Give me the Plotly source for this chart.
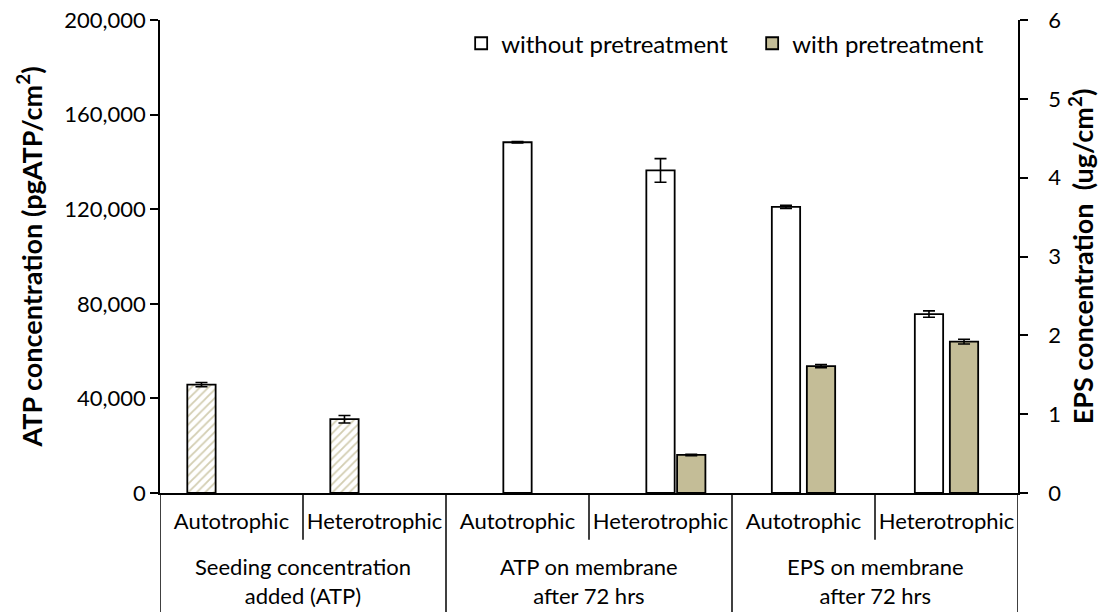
import plotly.graph_objects as go

# ---- data ----
groups = ["Seeding concentration<br>added (ATP)", "ATP on membrane<br>after 72 hrs", "EPS on membrane<br>after 72 hrs"]
subcats = ["Autotrophic", "Heterotrophic"]

seeding_atp = [45800, 31200, None, None, None, None]
seeding_err = [900, 1600, 0, 0, 0, 0]
atp_without = [None, None, 148300, 136400, None, None]
atp_without_err = [0, 0, 300, 5000, 0, 0]
atp_with = [None, None, None, 16100, None, None]
atp_with_err = [0, 0, 0, 300, 0, 0]
eps_without = [None, None, None, None, 3.63, 2.27]
eps_without_err = [0, 0, 0, 0, 0.02, 0.04]
eps_with = [None, None, None, None, 1.61, 1.92]
eps_with_err = [0, 0, 0, 0, 0.02, 0.03]

series_names = ["without pretreatment", "with pretreatment"]

inner_labels = [s for g in groups for s in subcats]
xpos = list(range(len(inner_labels)))

FONT = "Lato"
TAN = "#C4BD97"
LW = 1.8
BW = 0.198

def err(a):
    return dict(type="data", array=a, visible=True, color="black", thickness=1.6, width=6)

fig = go.Figure()
fig.add_trace(go.Bar(x=xpos, y=seeding_atp, width=BW, offset=-0.309,
                     marker=dict(color="white", line=dict(color="black", width=LW),
                                 pattern=dict(shape="/", fgcolor="#D3CEB2", bgcolor="white",
                                              size=6, solidity=0.3, fillmode="replace")),
                     error_y=err(seeding_err), showlegend=False, name="Seeding"))
fig.add_trace(go.Bar(x=xpos, y=atp_without, width=BW, offset=-0.099,
                     marker=dict(color="white", line=dict(color="black", width=LW)),
                     error_y=err(atp_without_err), name=series_names[0], legendgroup="a"))
fig.add_trace(go.Bar(x=xpos, y=atp_with, width=BW, offset=0.116,
                     marker=dict(color=TAN, line=dict(color="black", width=LW)),
                     error_y=err(atp_with_err), name=series_names[1], legendgroup="b"))
fig.add_trace(go.Bar(x=xpos, y=eps_without, width=BW, offset=-0.2215, yaxis="y2",
                     marker=dict(color="white", line=dict(color="black", width=LW)),
                     error_y=err(eps_without_err), name=series_names[0], legendgroup="a",
                     showlegend=False))
fig.add_trace(go.Bar(x=xpos, y=eps_with, width=BW, offset=0.0235, yaxis="y2",
                     marker=dict(color=TAN, line=dict(color="black", width=LW)),
                     error_y=err(eps_with_err), name=series_names[1], legendgroup="b",
                     showlegend=False))

# separators below the axis
shapes = []
for i in range(len(groups)):
    xm = i * len(subcats) + 0.5
    shapes.append(dict(type="line", xref="x", yref="paper", x0=xm, x1=xm, y0=0, y1=-0.099,
                       line=dict(color="black", width=1.5)))
for i in range(len(groups) + 1):
    xb = i * len(subcats) - 0.5
    shapes.append(dict(type="line", xref="x", yref="paper", x0=xb, x1=xb, y0=0, y1=-0.3,
                       line=dict(color="black", width=1.5)))

annotations = []
for i, g in enumerate(groups):
    annotations.append(dict(x=i * len(subcats) + 0.5, xref="x", y=-0.186, yref="paper",
                            text=g, showarrow=False, xanchor="center", yanchor="middle",
                            font=dict(family=FONT, size=22, color="black")))

fig.update_layout(
    width=1104, height=612,
    margin=dict(l=160, r=86, t=20, b=119, autoexpand=False),
    paper_bgcolor="white", plot_bgcolor="white",
    barmode="overlay",
    font=dict(family=FONT, size=22, color="black"),
    shapes=shapes, annotations=annotations,
    legend=dict(orientation="h", x=0.351, xanchor="left", y=0.95, yanchor="middle",
                font=dict(family=FONT, size=24, color="black"), bgcolor="rgba(0,0,0,0)",
                entrywidth=246, entrywidthmode="pixels", tracegroupgap=0),
    xaxis=dict(range=[-0.5, 5.5], tickvals=xpos, ticktext=inner_labels, ticks="",
               showline=True, linecolor="black", linewidth=1.5, showgrid=False, zeroline=False,
               tickfont=dict(family=FONT, size=22), ticklabelstandoff=8),
    yaxis=dict(range=[0, 200000], dtick=40000, tickformat=",", ticks="outside", ticklen=8,
               tickwidth=1.5, tickcolor="black", showline=True, linecolor="black", linewidth=1.5,
               showgrid=False, zeroline=False, tickfont=dict(family=FONT, size=22),
               title=dict(text="ATP concentration (pgATP/cm<sup>2</sup>)", standoff=14,
                          font=dict(family=FONT, size=27, weight="bold"))),
    yaxis2=dict(range=[0, 6], dtick=1, overlaying="y", side="right", ticks="outside", ticklen=8,
                tickwidth=1.5, tickcolor="black", showline=True, linecolor="black", linewidth=1.5,
                showgrid=False, zeroline=False, tickfont=dict(family=FONT, size=22),
                ticklabelstandoff=16,
                title=dict(text="EPS concentration  (ug/cm<sup>2</sup>)", standoff=14,
                           font=dict(family=FONT, size=27, weight="bold"))),
)

fig.write_html("out.html")
